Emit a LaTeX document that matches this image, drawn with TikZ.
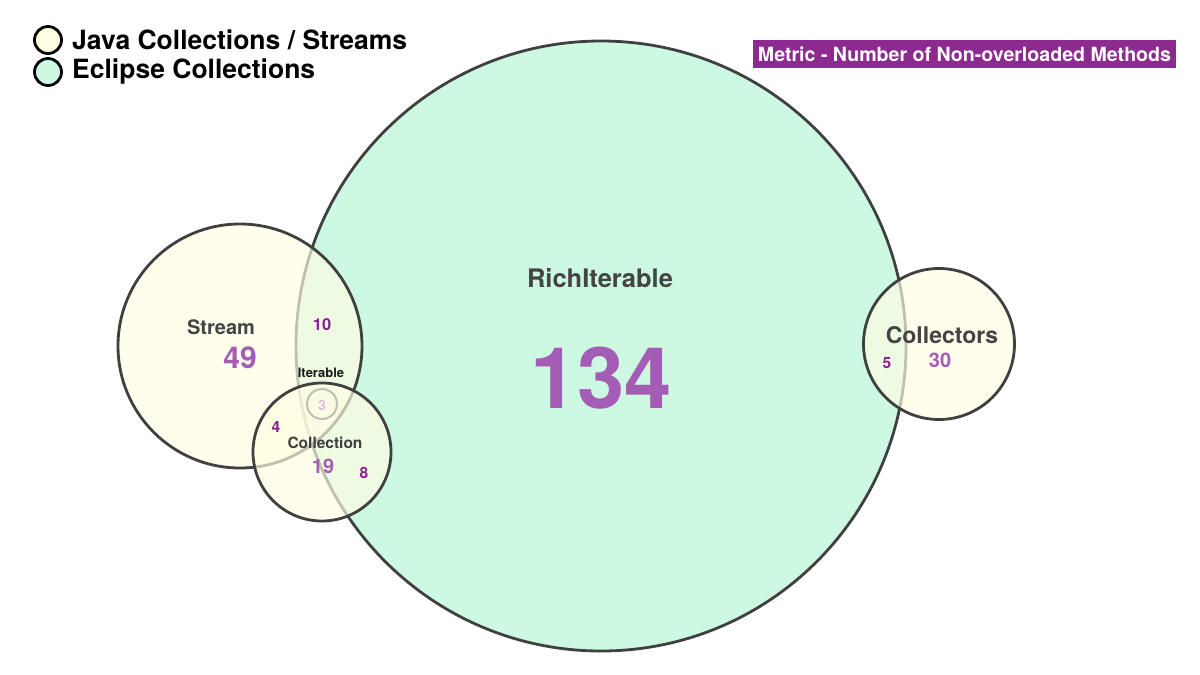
\documentclass[tikz,border=0pt]{standalone}
\usepackage{fontspec}
\setmainfont{TeX Gyre Heros}
\definecolor{greenfill}{HTML}{CDF8E2}
\definecolor{yellowfill}{HTML}{FFFDE2}
\definecolor{edge}{HTML}{404040}
\definecolor{lightpurple}{HTML}{A55CB5}
\definecolor{darkpurple}{HTML}{8A1E92}
\definecolor{metricbg}{HTML}{8C2A8F}
\definecolor{labelgrey}{HTML}{444444}
\newcommand{\fs}[1]{\fontsize{#1}{#1}\selectfont\bfseries}
\tikzset{
  setcircle/.style={circle, draw=edge, line width=2.8pt, inner sep=0pt},
  richset/.style={setcircle, fill=greenfill},
  javaset/.style={setcircle, fill=yellowfill, fill opacity=0.68},
  setname/.style={text=labelgrey, inner sep=0pt},
  bignum/.style={text=lightpurple, inner sep=0pt},
  smallnum/.style={text=darkpurple, inner sep=0pt},
  legendcirc/.style={circle, draw=black, line width=2.8pt, inner sep=0pt, minimum size=27pt},
}
\begin{document}
\begin{tikzpicture}[x=1pt,y=-1pt]
\useasboundingbox[fill=white] (0,0) rectangle (1200,675);
% sets
\node[richset, minimum size=610pt] (rich) at (601,346) {};
\node[javaset, minimum size=244pt] (stream) at (240,346) {};
\node[javaset, minimum size=138pt] (collection) at (322,452) {};
\node[circle, draw=gray!70, line width=2pt, draw opacity=0.7, inner sep=0pt, minimum size=30pt] (iterable) at (322,404) {};
\node[javaset, minimum size=151pt] (collectors) at (939,344) {};
% labels
\node[setname, font=\fs{25.5}] (richlbl) at (600,278) {RichIterable};
\node[bignum, font=\fs{85}] (richnum) at (601,378) {134};
\node[setname, font=\fs{20}] (streamlbl) at (221,327) {Stream};
\node[bignum, font=\fs{30}] (streamnum) at (240,358) {49};
\node[smallnum, font=\fs{16.5}] (n10) at (322,325) {10};
\node[text=black!90, inner sep=0pt, font=\fs{13}] (iterlbl) at (321,373) {Iterable};
\node[text=lightpurple!40, inner sep=0pt, font=\fs{14}] (n3) at (322,405) {3};
\node[smallnum, font=\fs{15.5}] (n4) at (276,427) {4};
\node[setname, text=labelgrey!90!black, font=\fs{15.5}] (colllbl) at (325,443) {Collection};
\node[bignum, font=\fs{20}] (n19) at (323,466) {19};
\node[smallnum, font=\fs{15.5}] (n8) at (364,473) {8};
\node[setname, font=\fs{23}] (collectorslbl) at (942,335) {Collectors};
\node[bignum, font=\fs{20}] (n30) at (940,360) {30};
\node[smallnum, font=\fs{15.5}] (n5) at (887,363) {5};
% legend
\node[legendcirc, fill=yellowfill] (leg1) at (48,40) {};
\node[legendcirc, fill=greenfill] (leg2) at (48,72) {};
\node[anchor=west, inner sep=0pt, font=\fs{26.5}] (leg1txt) at (72,40) {Java Collections / Streams};
\node[anchor=west, inner sep=0pt, font=\fs{26.5}] (leg2txt) at (72,72) {Eclipse Collections};
% metric
\node[fill=metricbg, text=white, inner sep=0pt, minimum width=423pt, minimum height=28pt, font=\fs{19.6}] (metric) at (964.5,54) {Metric - Number of Non-overloaded Methods};
\end{tikzpicture}
\end{document}
